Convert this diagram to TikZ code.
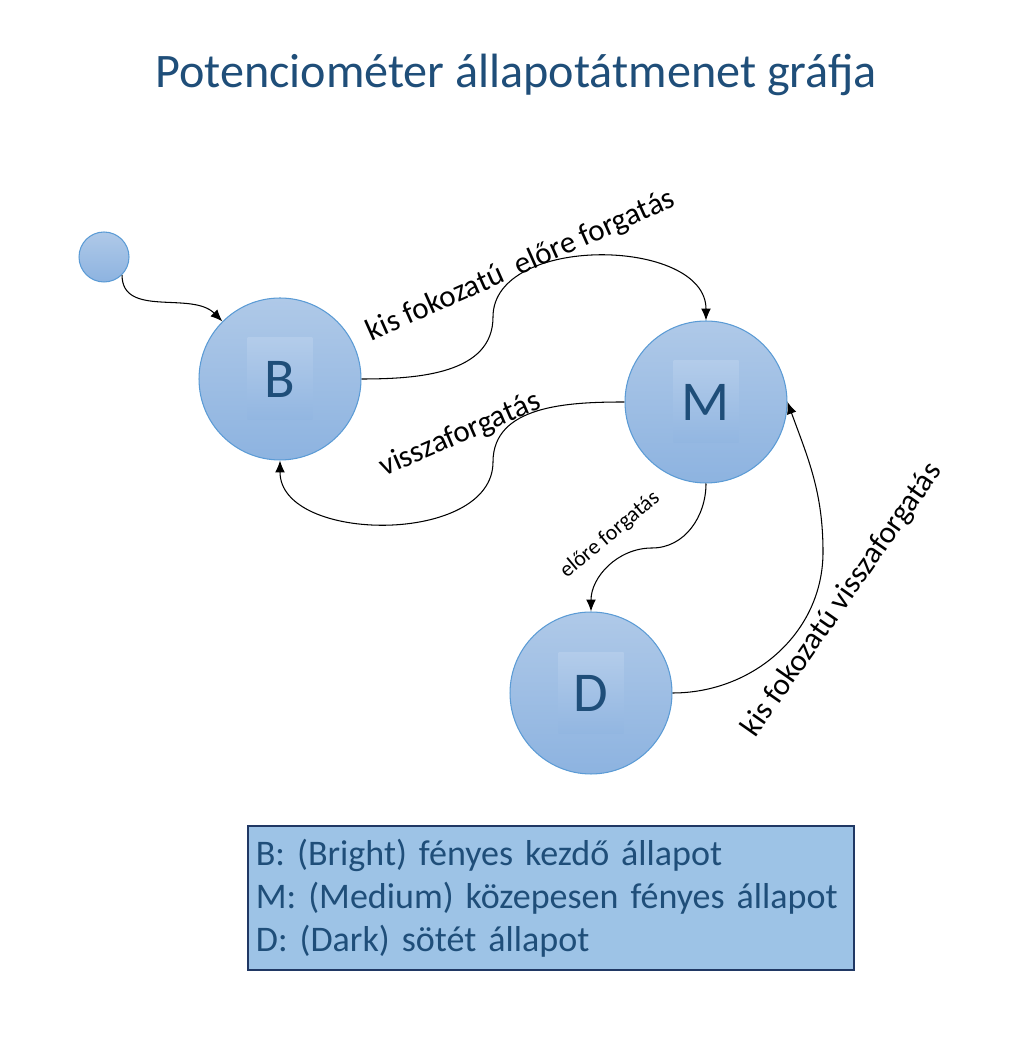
\documentclass[tikz,border=0pt]{standalone}
\usepackage{fontspec}
\setmainfont{Carlito}
\usepackage{tikz}
\usetikzlibrary{automata}
\usetikzlibrary{positioning}
\usetikzlibrary{arrows,arrows.meta}
\definecolor{stateedge}{HTML}{5B9BD5}
\definecolor{statetop}{HTML}{AFC9E8}
\definecolor{statebottom}{HTML}{8DB3E0}
\definecolor{boxtop}{HTML}{B3CCEA}
\definecolor{boxbottom}{HTML}{92B6E1}
\definecolor{darkblue}{HTML}{1F4E79}
\definecolor{legendfill}{HTML}{9DC3E6}
\definecolor{legendedge}{HTML}{203864}
\tikzset{my_graph/.style={->,>={Latex[length=6.8pt,width=5.6pt]},semithick,x=0.02cm,y=0.02cm}}
\tikzset{my_state/.style={circle, draw=stateedge, line width=0.6pt, top color=statetop, bottom color=statebottom, minimum size=3.24cm, inner sep=0pt}}
\tikzset{my_start_state/.style={minimum size=1cm}}
\tikzset{my_letter/.style={rectangle, top color=boxtop, bottom color=boxbottom, minimum width=1.3cm, minimum height=1.64cm, inner sep=0pt, text=darkblue, font=\fontsize{32}{38}\selectfont}}
\tikzset{my_label/.style={inner sep=0pt, font=\fontsize{17.6}{21}\selectfont}}
\tikzset{my_small_label/.style={inner sep=0pt, font=\fontsize{12.5}{15}\selectfont}}
\tikzset{my_title/.style={text=darkblue, inner sep=0pt, font=\fontsize{27.4}{33}\selectfont}}
\tikzset{my_legend/.style={rectangle, draw=legendedge, line width=1pt, fill=legendfill, text=darkblue, align=left, text width=11.8cm, inner xsep=0.16cm, minimum height=2.88cm, font=\fontsize{20.5}{24.4}\selectfont\frenchspacing}}

\begin{document}
\begin{tikzpicture}[my_graph]
    \tikzstyle{every state}=[my_state]
    \useasboundingbox (0,0) rectangle (1019,1041);
    %\draw[help lines, step=50] (0,0) grid (1019,1041);
    \node[my_title, anchor=base] (title) at (516,953) {Potenciométer állapotátmenet gráfja};

    \node[state, my_start_state] (S) at (104,784) {};
    \node[state] (B) at (280,662) {};
    \node[state] (M) at (706,639) {};
    \node[state] (D) at (591,348) {};
    \node[my_letter] (Bl) at (B) {B};
    \node[my_letter] (Ml) at (M) {M};
    \node[my_letter] (Dl) at (D) {D};

    \coordinate (bm) at (493,724);
    \coordinate (mb) at (493,579);
    \coordinate (md) at (652,493);
    \coordinate (dm) at (823,489);

    \path
        (S.-45) edge [out=-90, in=135] (B)
    ;
    \draw (B) to [out=0, in=-90] (bm) to [out=90, in=90] (M);
    \draw (M) to [out=180, in=90] (mb) to [out=-90, in=-90] (B);
    \draw (M) to [out=-90, in=0] (md) to [out=180, in=90] (D);
    \draw (D) to [out=0, in=-90] (dm) to [out=90, in=-70] (M.east);

    \node[my_label, rotate=24] (l1) at (521,775) {kis fokozatú\ \ előre forgatás};
    \node[my_label, rotate=23.4] (l2) at (460,606) {visszaforgatás};
    \node[my_small_label, rotate=40] (l3) at (610,506) {előre forgatás};
    \node[my_label, rotate=55] (l4) at (842,441) {kis fokozatú visszaforgatás};

    \node[my_legend, anchor=north west] (legend) at (247,216) {B: (Bright) fényes kezdő állapot\\M: (Medium) közepesen fényes állapot\\D: (Dark) sötét állapot};
\end{tikzpicture}
\end{document}
